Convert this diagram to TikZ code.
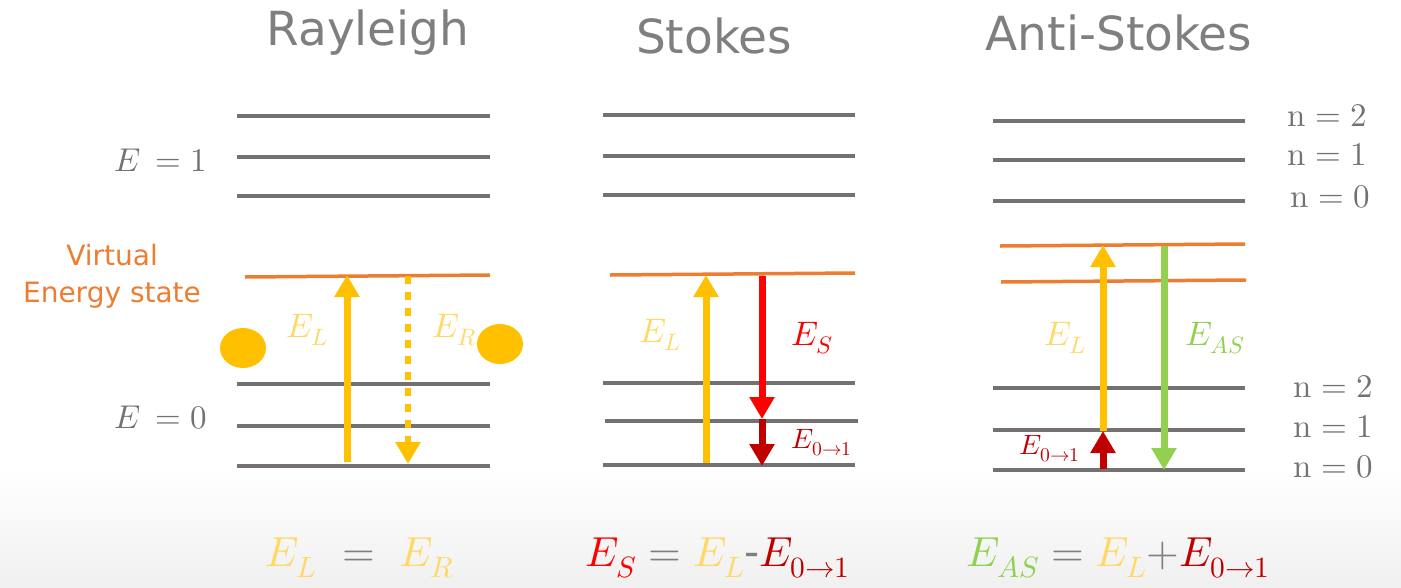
\documentclass[tikz,border=0pt]{standalone}
\usepackage{fontspec}
\usepackage{unicode-math}
\setmainfont{DejaVu Sans}
\setmathfont{Latin Modern Math}
\usepackage{tikz}
\usetikzlibrary{arrows.meta}
\definecolor{lvlgray}{HTML}{767171}
\definecolor{virt}{HTML}{ED7D31}
\definecolor{laser}{HTML}{FFC000}
\definecolor{laserlbl}{HTML}{FFD966}
\definecolor{stokesred}{HTML}{FF0000}
\definecolor{vibred}{HTML}{C00000}
\definecolor{asgreen}{HTML}{92D050}
\definecolor{titlegray}{HTML}{7F7F7F}

\begin{document}
\begin{tikzpicture}[
  x=1pt,y=-1pt,
  level/.style={lvlgray,line width=3.5pt},
  vlevel/.style={virt,line width=3.5pt},
  tr/.style={line width=7pt,-{Triangle[width=24pt,length=22pt]}},
  title/.style={text=titlegray,font=\fontsize{47}{54}\selectfont},
  lbl/.style={font=\fontsize{34}{40}\selectfont},
  small/.style={font=\fontsize{28}{32}\selectfont},
  nlbl/.style={text=lvlgray,font=\fontsize{33}{38}\selectfont},
  eq/.style={font=\fontsize{42}{48}\selectfont}
]
\useasboundingbox (0,0) rectangle (1401,587);
\shade[top color=white,bottom color=black!6] (0,470) rectangle (1401,587);

% ---- titles ----
\node[title] (tRay) at (368,33) {Rayleigh};
\node[title] (tSto) at (714,36) {Stokes};
\node[title] (tAnti) at (1119,33) {Anti-Stokes};

% ---- Rayleigh ----
\draw[level] (237,116) -- (490,116);
\draw[level] (237,157) -- (490,157);
\draw[level] (237,196) -- (490,196);
\draw[vlevel] (245,277) -- (490,275);
\draw[level] (237,384) -- (490,384);
\draw[level] (237,426) -- (490,426);
\draw[level] (237,466) -- (490,466);
\node[nlbl] (e1) at (161,160) {$E\,=1$};
\node[nlbl] (e0) at (161,418) {$E\,=0$};
\node[text=virt,font=\fontsize{28}{37}\selectfont,align=center] (vstate) at (112,276) {Virtual\\Energy state};
\fill[laser] (243,348) ellipse (23 and 20);
\fill[laser] (500,344) ellipse (23 and 20);
\coordinate (rL0) at (347,462);
\coordinate (rL1) at (347,275);
\coordinate (rR0) at (408,276);
\coordinate (rR1) at (408,464);
\draw[tr,laser] (rL0) -- (rL1);
\draw[tr,laser,dash pattern=on 8pt off 8pt,line width=6pt] (rR0) -- (rR1);
\node[lbl,text=laserlbl] (rEL) at (307,330) {$E_L$};
\node[lbl,text=laserlbl] (rER) at (455,330) {$E_R$};

% ---- Stokes ----
\draw[level] (603,115) -- (855,115);
\draw[level] (603,156) -- (855,156);
\draw[level] (603,195) -- (855,195);
\draw[vlevel] (610,275) -- (855,273);
\draw[level] (603,383) -- (855,383);
\draw[level] (605,421) -- (858,421);
\draw[level] (603,465) -- (855,465);
\coordinate (sL0) at (706,463);
\coordinate (sL1) at (706,275);
\coordinate (sS0) at (762,276);
\coordinate (sS1) at (762,419);
\coordinate (sV1) at (762,466);
\draw[tr,laser] (sL0) -- (sL1);
\draw[tr,stokesred] (sS0) -- (sS1);
\draw[tr,vibred] (sS1) -- (sV1);
\node[lbl,text=laserlbl] (sEL) at (660,335) {$E_L$};
\node[lbl,text=stokesred] (sES) at (812,338) {$E_S$};
\node[small,text=vibred] (sE01) at (822,443) {$E_{0\rightarrow1}$};

% ---- Anti-Stokes ----
\draw[level] (993,121) -- (1245,121);
\draw[level] (993,160) -- (1245,160);
\draw[level] (993,201) -- (1245,201);
\draw[vlevel] (1000,246) -- (1245,244);
\draw[vlevel] (1001,282) -- (1246,280);
\draw[level] (993,388) -- (1245,388);
\draw[level] (993,430) -- (1245,430);
\draw[level] (993,470) -- (1245,470);
\coordinate (aV0) at (1103,469);
\coordinate (aV1) at (1103,431);
\coordinate (aL1) at (1103,245);
\coordinate (aS0) at (1164,246);
\coordinate (aS1) at (1164,470);
\draw[tr,vibred] (aV0) -- (aV1);
\draw[tr,laser] (aV1) -- (aL1);
\draw[tr,asgreen] (aS0) -- (aS1);
\node[lbl,text=laserlbl] (aEL) at (1065,338) {$E_L$};
\node[lbl,text=asgreen] (aEAS) at (1215,338) {$E_{AS}$};
\node[small,text=vibred] (aE01) at (1050,449) {$E_{0\rightarrow1}$};
\node[nlbl] (n2a) at (1327,116) {$\symup{n}=2$};
\node[nlbl] (n1a) at (1327,155) {$\symup{n}=1$};
\node[nlbl] (n0a) at (1330,197) {$\symup{n}=0$};
\node[nlbl] (n2b) at (1333,387) {$\symup{n}=2$};
\node[nlbl] (n1b) at (1333,427) {$\symup{n}=1$};
\node[nlbl] (n0b) at (1333,467) {$\symup{n}=0$};

% ---- equations ----
\node[eq] (eqR) at (360,558) {$\color{laserlbl}E_L\ \mathrel{\color{titlegray}=}\ {\color{laserlbl}E_R}$};
\node[eq] (eqS) at (718,558) {$\color{stokesred}E_S\mathrel{\color{titlegray}=}{\color{laserlbl}E_L}{\color{titlegray}\textrm{-}}{\color{vibred}E_{0\rightarrow1}}$};
\node[eq] (eqA) at (1118,558) {$\color{asgreen}E_{AS}\mathrel{\color{titlegray}=}{\color{laserlbl}E_L}{\color{titlegray}+}{\color{vibred}E_{0\rightarrow1}}$};
\end{tikzpicture}
\end{document}
